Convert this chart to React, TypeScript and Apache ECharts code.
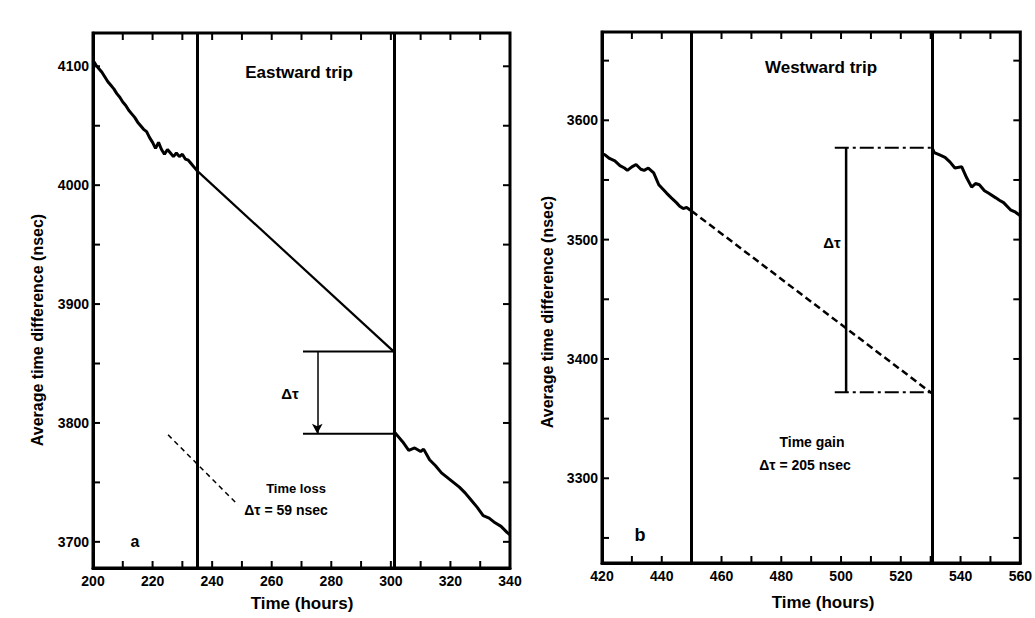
import React, { useEffect, useRef } from "react";
import * as echarts from "echarts";

// ---------- Data ----------
// Eastward trip (panel a): time (hours), average time difference (nsec)
const eastBefore: [number, number][] = [
  [200, 4105], [201, 4101], [202, 4098], [203, 4095], [204, 4091], [205, 4087],
  [206, 4084], [207, 4081], [208, 4077], [209, 4074], [210, 4070], [211, 4067],
  [212, 4063], [213, 4060], [214, 4057], [215, 4053], [216, 4050], [217, 4047],
  [218, 4045], [219, 4040], [220, 4036], [221, 4031], [222, 4036], [223, 4030],
  [224, 4026], [225, 4030], [226, 4027], [227, 4024], [228, 4027], [229, 4024],
  [230, 4026], [231, 4022], [232, 4021], [233, 4018], [234, 4015], [235, 4012],
];
const eastPredicted: [number, number][] = [[235, 4012], [301, 3860]];
const eastAfter: [number, number][] = [
  [301, 3793], [302, 3790], [304, 3784], [306, 3777], [308, 3779], [310, 3776],
  [311, 3778], [313, 3769], [315, 3764], [317, 3758], [319, 3754], [321, 3750],
  [323, 3746], [325, 3741], [327, 3735], [329, 3729], [331, 3722], [333, 3720],
  [335, 3716], [337, 3713], [339, 3708], [340, 3706],
];
const eastTripBounds: number[] = [235, 301];
const eastBracketTop: [number, number][] = [[270.5, 3860], [301, 3860]];
const eastBracketBottom: [number, number][] = [[270.5, 3791], [301, 3791]];
const eastArrow: [number, number][] = [[275.3, 3860], [275.3, 3791]];
const eastPointer: [number, number][] = [[225.2, 3790], [248.7, 3731]];
const eastXRange: [number, number] = [200, 340];
const eastYRange: [number, number] = [3678, 4128];
const eastXTicks: number[] = [210, 220, 230, 240, 250, 260, 270, 280, 290, 300, 310, 320, 330];
const eastYTicks: number[] = [3700, 3750, 3800, 3850, 3900, 3950, 4000, 4050, 4100];
const eastYLabels: number[] = [3700, 3800, 3900, 4000, 4100];

// Westward trip (panel b)
const westBefore: [number, number][] = [
  [420, 3572], [421, 3571], [422.5, 3568], [424.3, 3566], [426, 3562], [427.5, 3560],
  [428.5, 3558], [430, 3561], [431.4, 3563], [433, 3559], [434.1, 3558], [435.5, 3560],
  [437.3, 3556], [439, 3546], [440.5, 3542], [441.6, 3539], [443.2, 3535], [444.9, 3531],
  [446, 3528], [447.2, 3526], [448.3, 3527], [449.4, 3525], [450, 3524],
];
const westPredicted: [number, number][] = [[450, 3524], [530.5, 3371]];
const westAfter: [number, number][] = [
  [530.5, 3577], [531.2, 3573], [533, 3571], [534.8, 3569], [536.5, 3565], [538.1, 3560],
  [540.4, 3561], [542, 3552], [543.7, 3544], [545, 3547], [546.3, 3546], [548, 3541],
  [549.3, 3539], [551.8, 3535], [553, 3533], [554.4, 3531], [556.7, 3525], [558.4, 3523],
  [560, 3520],
];
const westTripBounds: number[] = [450, 530.5];
const westBracketTop: [number, number][] = [[497.9, 3577], [530.5, 3577]];
const westBracketBottom: [number, number][] = [[497.9, 3372], [530.5, 3372]];
const westBracketStem: [number, number][] = [[501.7, 3577], [501.7, 3372]];
const westXRange: [number, number] = [420, 560];
const westYRange: [number, number] = [3229, 3674];
const westXTicks: number[] = [430, 440, 450, 460, 470, 480, 490, 500, 510, 520, 530, 540, 550];
const westYTicks: number[] = [3250, 3300, 3350, 3400, 3450, 3500, 3550, 3600, 3650];
const westYLabels: number[] = [3300, 3400, 3500, 3600];

const FONT = "'Liberation Sans', Arial, sans-serif";
const INK = "#000";
const TICK = 7;

function xAxisDef(gridIndex: number, range: [number, number]) {
  return {
    type: "value",
    gridIndex,
    min: range[0],
    max: range[1],
    interval: 20,
    axisLine: { show: true, onZero: false, lineStyle: { color: INK, width: 3 } },
    axisTick: { show: false },
    axisLabel: {
      color: INK,
      fontFamily: FONT,
      fontWeight: "bold",
      fontSize: 14,
      margin: 6,
      formatter: (v: number) => String(v),
    },
    splitLine: { show: false },
  };
}

function yAxisDef(gridIndex: number, range: [number, number], labels: number[]) {
  return {
    type: "value",
    gridIndex,
    min: range[0],
    max: range[1],
    axisLine: { show: true, onZero: false, lineStyle: { color: INK, width: 3 } },
    axisTick: { show: false },
    axisLabel: {
      customValues: labels,
      color: INK,
      fontFamily: FONT,
      fontWeight: "bold",
      fontSize: 14,
      margin: 4,
      formatter: (v: number) => String(v),
    },
    splitLine: { show: false },
  };
}

function lineSeries(
  data: [number, number][],
  ai: number,
  width: number,
  type: any = "solid",
  extra: any = {}
) {
  return {
    type: "line",
    xAxisIndex: ai,
    yAxisIndex: ai,
    data,
    showSymbol: false,
    symbol: "none",
    silent: true,
    lineStyle: { color: INK, width, type },
    ...extra,
  };
}

function boundsMarkLine(bounds: number[]) {
  return {
    markLine: {
      silent: true,
      symbol: ["none", "none"],
      label: { show: false },
      lineStyle: { color: INK, width: 3, type: "solid" },
      data: bounds.map((b) => ({ xAxis: b })),
    },
  };
}

// Inward ticks on all four sides of a frame, positioned through the axes' scales
function tickSeries(
  ai: number,
  xr: [number, number],
  yr: [number, number],
  xt: number[],
  yt: number[]
) {
  // side: 0 bottom, 1 top, 2 left, 3 right
  const data: [number, number, number][] = [
    ...xt.map((t) => [t, yr[0], 0] as [number, number, number]),
    ...xt.map((t) => [t, yr[1], 1] as [number, number, number]),
    ...yt.map((v) => [xr[0], v, 2] as [number, number, number]),
    ...yt.map((v) => [xr[1], v, 3] as [number, number, number]),
  ];
  return {
    type: "custom",
    xAxisIndex: ai,
    yAxisIndex: ai,
    silent: true,
    clip: false,
    z: 5,
    encode: { x: 0, y: 1 },
    data,
    renderItem: (params: any, api: any) => {
      const p = api.coord([api.value(0), api.value(1)]);
      const side = api.value(2);
      const dx = side === 2 ? TICK : side === 3 ? -TICK : 0;
      const dy = side === 0 ? -TICK : side === 1 ? TICK : 0;
      return {
        type: "line",
        shape: { x1: p[0], y1: p[1], x2: p[0] + dx, y2: p[1] + dy },
        style: { stroke: INK, lineWidth: 2 },
      };
    },
  };
}

function txt(text: string, x: number, y: number, size: number, extra: any = {}) {
  return {
    type: "text",
    x,
    y,
    silent: true,
    style: {
      text,
      fill: INK,
      font: `bold ${size}px ${FONT}`,
      align: "center",
      verticalAlign: "middle",
      ...extra,
    },
  };
}

export default function App() {
  const ref = useRef<HTMLDivElement>(null);

  useEffect(() => {
    document.body.style.margin = "0";
    if (!ref.current) return;
    const chart = echarts.init(ref.current, null, { renderer: "svg" });
    const option: any = {
      animation: false,
      backgroundColor: "#fff",
      grid: [
        { left: 93, top: 33, width: 417, height: 535, show: true, borderColor: INK, borderWidth: 3 },
        { left: 602, top: 32, width: 428, height: 531, show: true, borderColor: INK, borderWidth: 3 },
      ],
      xAxis: [xAxisDef(0, eastXRange), xAxisDef(1, westXRange)],
      yAxis: [yAxisDef(0, eastYRange, eastYLabels), yAxisDef(1, westYRange, westYLabels)],
      series: [
        // Eastward
        lineSeries(eastBefore, 0, 3, "solid", boundsMarkLine(eastTripBounds)),
        lineSeries(eastPredicted, 0, 2.2, "solid"),
        lineSeries(eastAfter, 0, 3),
        lineSeries(eastBracketTop, 0, 2),
        lineSeries(eastBracketBottom, 0, 2),
        lineSeries(eastPointer, 0, 1.5, [5, 4]),
        {
          type: "line",
          xAxisIndex: 0,
          yAxisIndex: 0,
          data: [],
          silent: true,
          markLine: {
            silent: true,
            symbol: ["none", "arrow"],
            symbolSize: [8, 10],
            label: { show: false },
            lineStyle: { color: INK, width: 1.5, type: "solid" },
            data: [[{ coord: eastArrow[0] }, { coord: eastArrow[1] }]],
          },
        },
        tickSeries(0, eastXRange, eastYRange, eastXTicks, eastYTicks),
        // Westward
        lineSeries(westBefore, 1, 3, "solid", boundsMarkLine(westTripBounds)),
        lineSeries(westPredicted, 1, 2.5, [7, 4]),
        lineSeries(westAfter, 1, 3),
        lineSeries(westBracketTop, 1, 2, [14, 4, 3, 4]),
        lineSeries(westBracketBottom, 1, 2, [14, 4, 3, 4]),
        lineSeries(westBracketStem, 1, 2.5),
        tickSeries(1, westXRange, westYRange, westXTicks, westYTicks),
      ],
      graphic: [
        txt("Eastward trip", 299, 72, 17),
        txt("Westward trip", 821, 67, 17),
        txt("Time loss", 296, 488, 13),
        txt("Δτ = 59 nsec", 286, 510, 14),
        txt("Time gain", 812, 442, 14),
        txt("Δτ = 205 nsec", 805, 465, 14),
        txt("Δτ", 290, 393, 15),
        txt("Δτ", 832, 242, 15),
        txt("a", 135, 541, 16),
        txt("b", 640, 535, 18),
        txt("Time (hours)", 302, 603, 17),
        txt("Time (hours)", 823, 602, 17),
        { ...txt("Average time difference (nsec)", 37, 330, 16), rotation: Math.PI / 2 },
        { ...txt("Average time difference (nsec)", 547, 312, 16), rotation: Math.PI / 2 },
      ],
    };
    chart.setOption(option);
    return () => chart.dispose();
  }, []);

  return <div ref={ref} style={{ width: 1035, height: 618 }} />;
}
